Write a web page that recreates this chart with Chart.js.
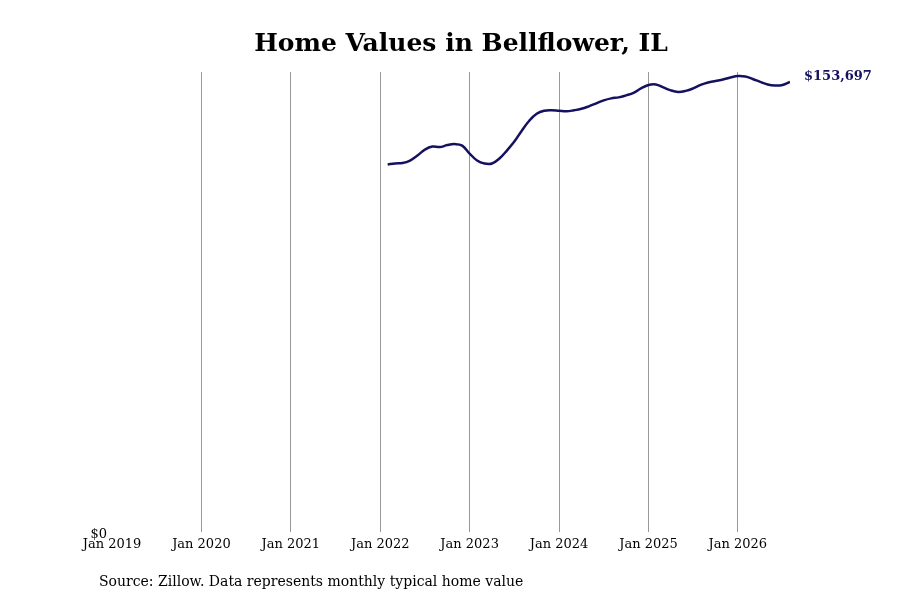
<!DOCTYPE html>
<html><head><meta charset="utf-8">
<script src="https://cdn.jsdelivr.net/npm/chart.js@4"></script>
<style>html,body{margin:0;padding:0;background:#fff}#w{width:900px;height:600px}</style>
</head><body><div id="w"><canvas id="c"></canvas></div>
<script>
const startIndex = 37; // Feb 2022, months since Jan 2019
const homeValues = [125541,125880,126050,126898,128595,130631,131648,131479,132157,132497,131988,129274,126898,125880,125880,127578,130292,133346,137078,140471,142847,143864,144034,143864,143694,144034,144543,145391,146409,147427,148106,148445,149124,149972,151499,152687,152856,151838,150820,150311,150650,151499,152687,153535,154044,154553,155232,155741,155571,154723,153705,152856,152517,152687,153697];
const yearLabels = ['Jan 2019','Jan 2020','Jan 2021','Jan 2022','Jan 2023','Jan 2024','Jan 2025','Jan 2026'];
const titleText = 'Home Values in Bellflower, IL';
const sourceText = 'Source: Zillow. Data represents monthly typical home value';
const lastLabel = '$153,697';

const pts = homeValues.map((v,i)=>({x:startIndex+i,y:v}));
const serif = "'DejaVu Serif', serif";
const deco = {id:'deco',afterDraw(ch){
  const c=ch.ctx, a=ch.chartArea, ys=ch.scales.y, xs=ch.scales.x;
  c.save();
  c.fillStyle='#000';c.font="bold 25px "+serif;c.textAlign='center';c.textBaseline='middle';
  c.fillText(titleText,461,44);
  c.font="14px "+serif;c.textAlign='left';c.fillText(sourceText,99,582);
  c.font="13px "+serif;c.textAlign='right';c.textBaseline='bottom';c.fillText('$0',107,541);
  const p=pts[pts.length-1];
  c.fillStyle='#14125e';c.font="bold 13px "+serif;c.textAlign='left';c.textBaseline='middle';
  c.fillText(lastLabel,xs.getPixelForValue(p.x)+14,ys.getPixelForValue(p.y)-5);
  c.restore();
}};
new Chart(document.getElementById('c'),{
  type:'line',
  data:{datasets:[{data:pts,borderColor:'#14125e',borderWidth:2.5,pointRadius:0,tension:0.4,fill:false}]},
  options:{responsive:true,maintainAspectRatio:false,animation:false,
    layout:{padding:{left:112,right:110,top:72,bottom:44}},
    plugins:{legend:{display:false},tooltip:{enabled:false}},
    scales:{
      x:{type:'linear',min:0,max:91,border:{display:false},
        grid:{drawTicks:false,color:c=>c.tick&&c.tick.value===0?'rgba(0,0,0,0)':'#999',lineWidth:1},
        afterBuildTicks:ax=>{ax.ticks=yearLabels.map((_,i)=>({value:i*12}));},
        ticks:{color:'#000',font:{family:serif,size:13},padding:4,maxRotation:0,autoSkip:false,callback:v=>yearLabels[v/12]}},
      y:{min:0,max:157100,display:false}
    }}
  ,plugins:[deco]});
</script></body></html>
